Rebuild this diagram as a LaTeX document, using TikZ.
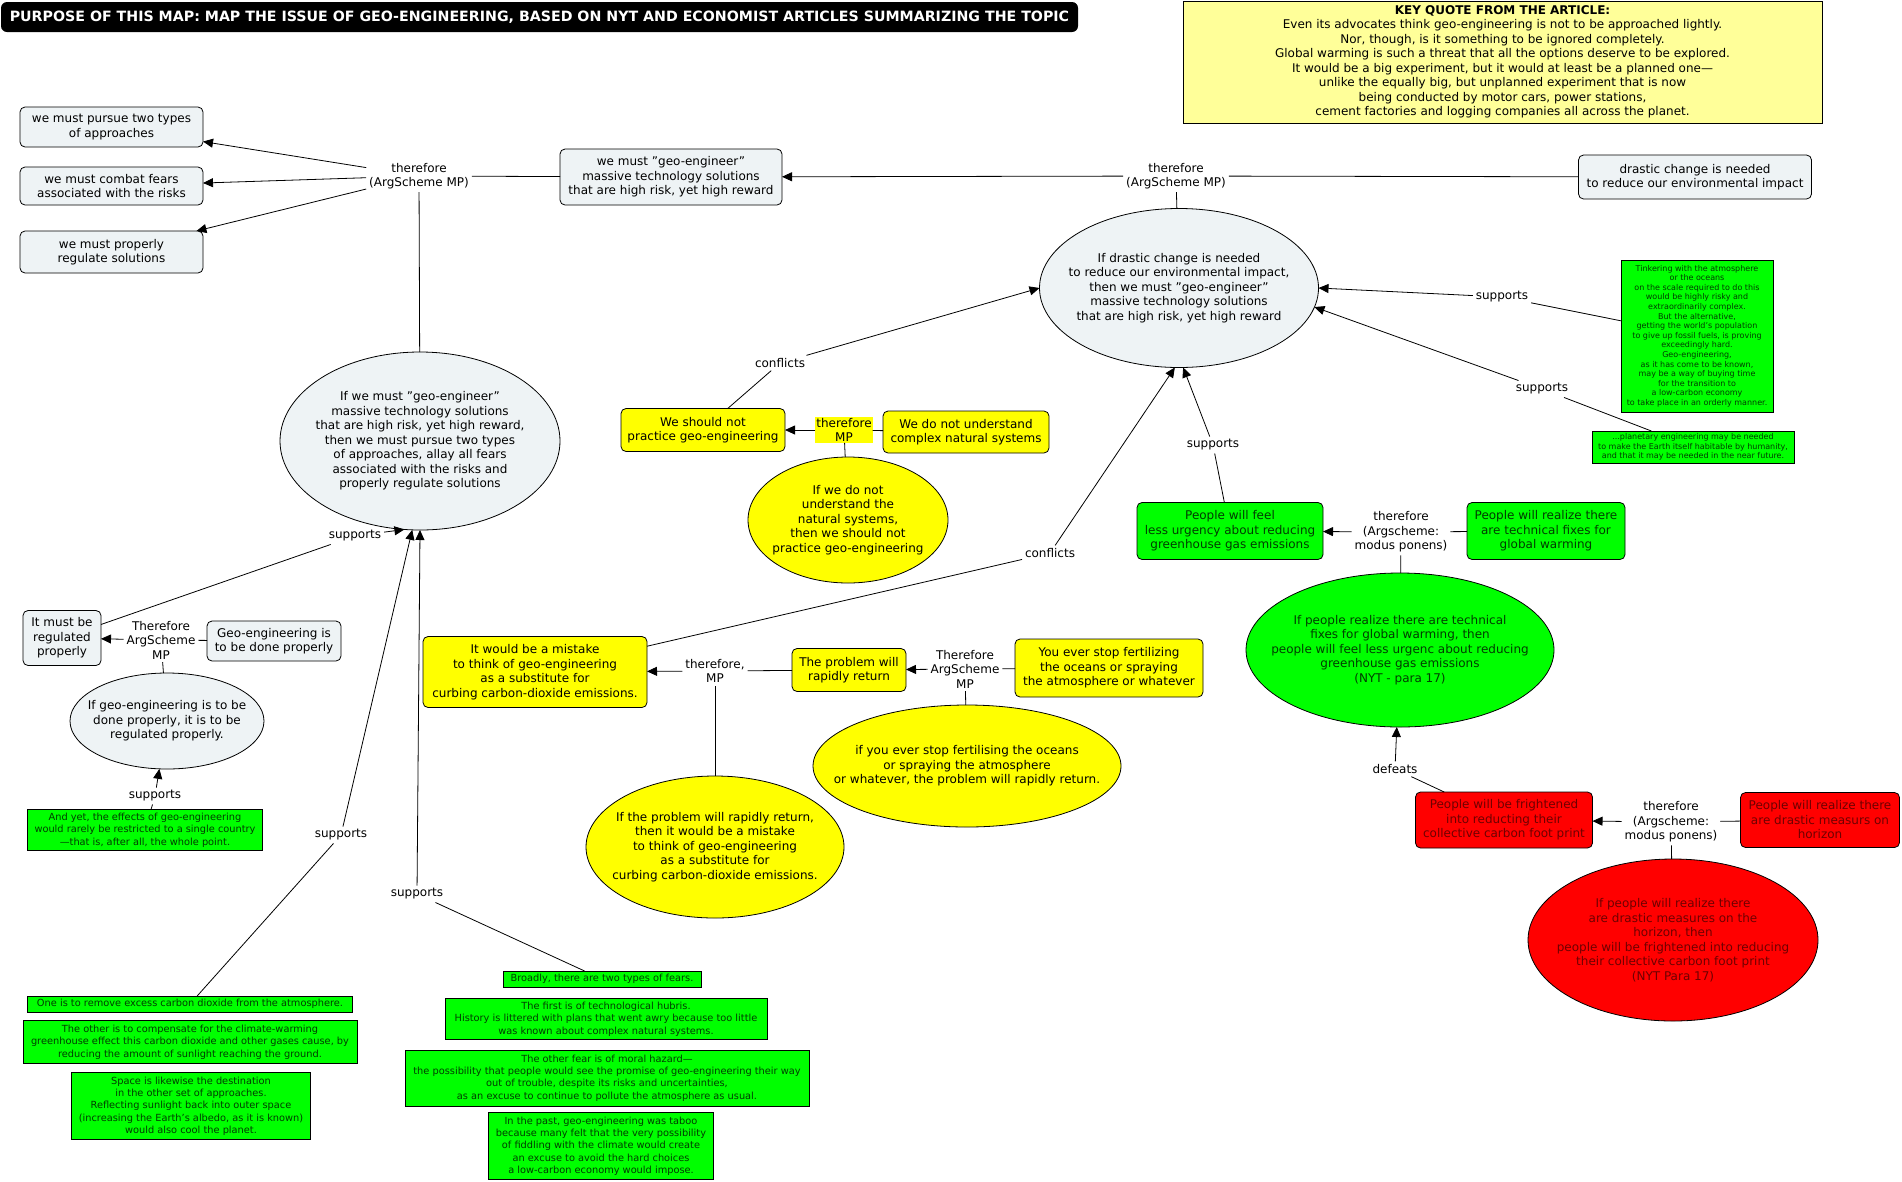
\documentclass[tikz,border=0pt]{standalone}
\usepackage{fontspec}
\setmainfont{DejaVu Sans}
\usetikzlibrary{shapes.geometric,arrows.meta}
\definecolor{lightc}{RGB}{238,243,245}
\definecolor{ygc}{RGB}{255,255,0}
\definecolor{grc}{RGB}{0,255,0}
\definecolor{rdc}{RGB}{255,0,0}
\definecolor{keyc}{RGB}{255,255,153}
\definecolor{gtxt}{RGB}{0,60,0}
\definecolor{rtxt}{RGB}{110,0,0}
\newcommand\fsz[2]{\fontsize{#1}{#2}\selectfont}
\tikzset{
  base/.style={align=center, inner sep=2pt, outer sep=0pt, font=\fsz{12}{14.5}},
  lightbox/.style={base, draw, rounded corners=5pt, fill=lightc},
  ybox/.style={base, draw, rounded corners=5pt, fill=ygc},
  gbox/.style={base, draw, rounded corners=5pt, fill=grc, text=gtxt},
  rbox/.style={base, draw, rounded corners=5pt, fill=rdc, text=rtxt},
  ell/.style={base, draw, ellipse, inner xsep=-120pt, inner ysep=-70pt},
  quotebox/.style={draw, fill=grc, text=gtxt, align=center, inner sep=1pt, outer sep=0pt, font=\fsz{9.8}{12.3}},
  tinybox/.style={quotebox, font=\fsz{8}{9.6}},
  lbl/.style={base, inner sep=3pt},
  arr/.style={-{Triangle[length=10pt,width=9pt]}}
}
\begin{document}
\begin{tikzpicture}[x=1pt,y=-1pt,line width=0.8pt]
\useasboundingbox (0,0) rectangle (1902,1181);
\fill[white] (0,0) rectangle (1902,1181);

% title and key quote
\node[fill=black, rounded corners=6pt, minimum width=1077pt, minimum height=30pt, text=white, font=\bfseries\fsz{14.2}{16}, inner sep=0pt] (title) at (539.5,17) {PURPOSE OF THIS MAP: MAP THE ISSUE OF GEO-ENGINEERING, BASED ON NYT AND ECONOMIST ARTICLES SUMMARIZING THE TOPIC};
\node[draw, fill=keyc, minimum width=639pt, minimum height=122pt, align=center, inner sep=0pt, font=\fsz{12}{14.5}] (keyq) at (1502.5,62) {\textbf{KEY QUOTE FROM THE ARTICLE:}\\Even its advocates think geo-engineering is not to be approached lightly.\\Nor, though, is it something to be ignored completely.\\Global warming is such a threat that all the options deserve to be explored.\\It would be a big experiment, but it would at least be a planned one—\\unlike the equally big, but unplanned experiment that is now\\being conducted by motor cars, power stations,\\cement factories and logging companies all across the planet.};

% top row
\node[lightbox, minimum width=183pt, minimum height=40pt] (b1) at (111.5,127) {we must pursue two types\\of approaches};
\node[lightbox, minimum width=183pt, minimum height=38pt] (b2) at (111.5,186) {we must combat fears\\associated with the risks};
\node[lightbox, minimum width=183pt, minimum height=42pt] (b3) at (111.5,252) {we must properly\\regulate solutions};
\node[lbl] (thTop) at (419,176) {therefore\\(ArgScheme MP)};
\node[lightbox, minimum width=222pt, minimum height=56pt] (geBox) at (671,177) {we must "geo-engineer"\\massive technology solutions\\that are high risk, yet high reward};
\node[lbl] (thMid) at (1176,176) {therefore\\(ArgScheme MP)};
\node[lightbox, minimum width=233pt, minimum height=44pt] (drastic) at (1695,177) {drastic change is needed\\to reduce our environmental impact};
\node[ell, fill=lightc, minimum width=279pt, minimum height=159pt] (bigE) at (1179,288) {If drastic change is needed\\to reduce our environmental impact,\\then we must "geo-engineer"\\massive technology solutions\\that are high risk, yet high reward};

% right quotes
\node[tinybox, minimum width=152pt, minimum height=152pt] (tinker) at (1697,336) {Tinkering with the atmosphere\\or the oceans\\on the scale required to do this\\would be highly risky and\\extraordinarily complex.\\But the alternative,\\getting the world's population\\to give up fossil fuels, is proving\\exceedingly hard.\\Geo-engineering,\\as it has come to be known,\\may be a way of buying time\\for the transition to\\a low-carbon economy\\to take place in an orderly manner.};
\node[lbl] (sup1) at (1502,297) {supports};
\node[tinybox, font=\fsz{8}{9.3}, minimum width=202pt, minimum height=32pt] (planet) at (1693,447) {...planetary engineering may be needed\\to make the Earth itself habitable by humanity,\\and that it may be needed in the near future.};
\node[lbl] (sup2) at (1542,389) {supports};

% yellow upper group
\node[ybox, minimum width=164pt, minimum height=43pt] (shouldNot) at (703,430) {We should not\\practice geo-engineering};
\node[lbl, fill=ygc, inner sep=1pt] (thMP) at (844,430) {therefore\\MP};
\node[ybox, minimum width=166pt, minimum height=42pt] (weDoNot) at (966,432) {We do not understand\\complex natural systems};
\node[ell, fill=ygc, minimum width=200pt, minimum height=126pt] (yE1) at (848,520) {If we do not\\understand the\\natural systems,\\then we should not\\practice geo-engineering};
\node[lbl] (conf1) at (780,363) {conflicts};

% green group
\node[gbox, minimum width=186pt, minimum height=57pt] (feel) at (1230,531) {People will feel\\less urgency about reducing\\greenhouse gas emissions};
\node[lbl] (thG) at (1401,532) {therefore\\(Argscheme:\\modus ponens)};
\node[gbox, minimum width=158pt, minimum height=57pt] (realizeFix) at (1546,531) {People will realize there\\are technical fixes for\\global warming};
\node[lbl] (sup3) at (1213,445) {supports};
\node[ell, fill=grc, text=gtxt, minimum width=308pt, minimum height=154pt] (gE) at (1400,650) {If people realize there are technical\\fixes for global warming, then\\people will feel less urgenc about reducing\\greenhouse gas emissions\\(NYT - para 17)};
\node[lbl] (defeats) at (1395,769) {defeats};

% red group
\node[rbox, minimum width=177pt, minimum height=56pt] (fright) at (1504,820) {People will be frightened\\into reducting their\\collective carbon foot print};
\node[lbl] (thR) at (1671,822) {therefore\\(Argscheme:\\modus ponens)};
\node[rbox, minimum width=159pt, minimum height=55pt] (realizeDr) at (1820,820) {People will realize there\\are drastic measurs on\\horizon};
\node[ell, fill=rdc, text=rtxt, minimum width=290pt, minimum height=162pt] (rE) at (1673,940) {If people will realize there\\are drastic measures on the\\horizon, then\\people will be frightened into reducing\\their collective carbon foot print\\(NYT Para 17)};

% yellow lower group
\node[ybox, minimum width=224pt, minimum height=71pt] (itWould) at (535,672) {It would be a mistake\\to think of geo-engineering\\as a substitute for\\curbing carbon-dioxide emissions.};
\node[lbl] (thY) at (715,671) {therefore,\\MP};
\node[ybox, minimum width=114pt, minimum height=43pt] (problem) at (849,670) {The problem will\\rapidly return};
\node[lbl] (thY2) at (965,669) {Therefore\\ArgScheme\\MP};
\node[ybox, minimum width=188pt, minimum height=58pt] (youEver) at (1109,668) {You ever stop fertilizing\\the oceans or spraying\\the atmosphere or whatever};
\node[ell, fill=ygc, minimum width=308pt, minimum height=122pt] (yE2) at (967,766) {if you ever stop fertilising the oceans\\or spraying the atmosphere\\or whatever, the problem will rapidly return.};
\node[ell, fill=ygc, minimum width=258pt, minimum height=142pt] (yE3) at (715,847) {If the problem will rapidly return,\\then it would be a mistake\\to think of geo-engineering\\as a substitute for\\curbing carbon-dioxide emissions.};
\node[lbl] (conf2) at (1050,553) {conflicts};

% left group
\node[ell, fill=lightc, minimum width=280pt, minimum height=178pt] (bigL) at (420,441) {If we must "geo-engineer"\\massive technology solutions\\that are high risk, yet high reward,\\then we must pursue two types\\of approaches, allay all fears\\associated with the risks and\\properly regulate solutions};
\node[lbl] (supL) at (355,536) {supports};
\node[lightbox, minimum width=78pt, minimum height=55pt] (mustReg) at (62,638) {It must be\\regulated\\properly};
\node[lbl] (thL) at (161,640) {Therefore\\ArgScheme\\MP};
\node[lightbox, minimum width=134pt, minimum height=40pt] (geDone) at (274,641) {Geo-engineering is\\to be done properly};
\node[ell, fill=lightc, minimum width=194pt, minimum height=96pt] (smallE) at (167,721) {If geo-engineering is to be\\done properly, it is to be\\regulated properly.};
\node[lbl] (supS) at (155,796) {supports};
\node[quotebox, minimum width=235pt, minimum height=41pt] (andYet) at (145,830) {And yet, the effects of geo-engineering\\would rarely be restricted to a single country\\—that is, after all, the whole point.};
\node[lbl] (sup4) at (341,835) {supports};
\node[lbl] (sup5) at (417,894) {supports};

% bottom quotes
\node[quotebox, minimum width=325pt, minimum height=16pt] (oneIs) at (190,1004) {One is to remove excess carbon dioxide from the atmosphere.};
\node[quotebox, minimum width=334pt, minimum height=43pt] (otherIs) at (190,1042) {The other is to compensate for the climate-warming\\greenhouse effect this carbon dioxide and other gases cause, by\\reducing the amount of sunlight reaching the ground.};
\node[quotebox, minimum width=239pt, minimum height=67pt] (spaceQ) at (191,1106) {Space is likewise the destination\\in the other set of approaches.\\Reflecting sunlight back into outer space\\(increasing the Earth’s albedo, as it is known)\\would also cool the planet.};
\node[quotebox, minimum width=198pt, minimum height=16pt] (broadly) at (602,979) {Broadly, there are two types of fears.};
\node[quotebox, minimum width=322pt, minimum height=41pt] (firstQ) at (606,1019) {The first is of technological hubris.\\History is littered with plans that went awry because too little\\was known about complex natural systems.};
\node[quotebox, minimum width=404pt, minimum height=56pt] (moral) at (607,1078) {The other fear is of moral hazard—\\the possibility that people would see the promise of geo-engineering their way\\out of trouble, despite its risks and uncertainties,\\as an excuse to continue to pollute the atmosphere as usual.};
\node[quotebox, minimum width=225pt, minimum height=67pt] (pastQ) at (601,1146) {In the past, geo-engineering was taboo\\because many felt that the very possibility\\of fiddling with the climate would create\\an excuse to avoid the hard choices\\a low-carbon economy would impose.};

% connectors
\draw (geBox) -- (thTop);
\draw (bigL) -- (thTop);
\draw[arr] (thTop) -- (b1);
\draw[arr] (thTop) -- (b2);
\draw[arr] (thTop) -- (b3);
\draw (drastic) -- (thMid);
\draw[arr] (thMid) -- (geBox);
\draw (bigE) -- (thMid);
\draw (tinker) -- (sup1);
\draw[arr] (sup1) -- (bigE.east);
\draw (planet) -- (sup2);
\draw[arr] (sup2) -- (bigE.-8);
\draw (shouldNot) -- (conf1);
\draw[arr] (conf1) -- (bigE.west);
\draw (weDoNot) -- (thMP);
\draw[arr] (thMP) -- (shouldNot);
\draw (yE1) -- (thMP);
\draw (feel) -- (sup3);
\draw[arr] (sup3) -- (bigE.-87);
\draw (realizeFix) -- (thG);
\draw[arr] (thG) -- (feel);
\draw (gE) -- (thG);
\draw (fright) -- (defeats);
\draw[arr] (defeats) -- (gE);
\draw (realizeDr) -- (thR);
\draw[arr] (thR) -- (fright);
\draw (rE) -- (thR);
\draw (itWould) -- (conf2);
\draw[arr] (conf2) -- (bigE.-93);
\draw (problem) -- (thY);
\draw[arr] (thY) -- (itWould);
\draw (yE3) -- (thY);
\draw (youEver) -- (thY2);
\draw[arr] (thY2) -- (problem);
\draw (yE2) -- (thY2);
\draw (mustReg) -- (supL);
\draw[arr] (supL) -- (bigL.-100);
\draw (geDone) -- (thL);
\draw[arr] (thL) -- (mustReg);
\draw (smallE) -- (thL);
\draw (andYet) -- (supS);
\draw[arr] (supS) -- (smallE);
\draw (oneIs) -- (sup4);
\draw[arr] (sup4) -- (bigL.-95);
\draw (broadly) -- (sup5);
\draw[arr] (sup5) -- (bigL.-90);
\end{tikzpicture}
\end{document}
